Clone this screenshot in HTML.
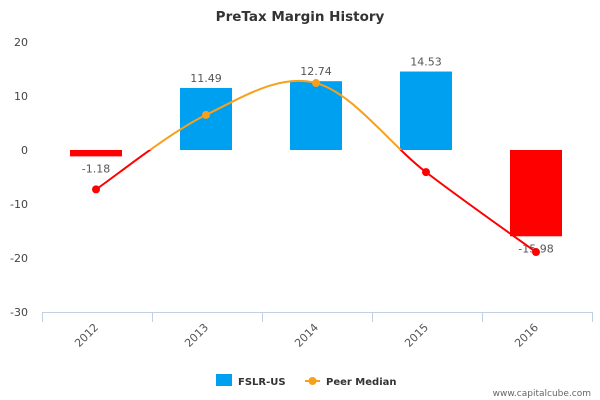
<!DOCTYPE html>
<html><head><meta charset="utf-8"><style>
body{margin:0;background:#fff;}
svg{display:block;font-family:"DejaVu Sans","Liberation Sans",sans-serif;}
</style></head><body>
<svg id="c" width="600" height="400">
<text x="300" y="21" text-anchor="middle" font-size="13.5" font-weight="bold" fill="#333">PreTax Margin History</text>
<g id="yaxis"></g>
<g id="xaxis"></g>
<g id="bars"></g>
<g id="line"></g>
<g>
<rect x="216" y="374" width="16" height="12" fill="#00a0f0"/>
<text x="238" y="385" font-size="10" font-weight="bold" fill="#333">FSLR-US</text>
<line x1="305" y1="381" x2="320" y2="381" stroke="#f8a01c" stroke-width="2"/>
<circle cx="312.5" cy="381" r="4" fill="#f8a01c"/>
<text x="326" y="385" font-size="10" font-weight="bold" fill="#333">Peer Median</text>
</g>
<text x="591" y="396" text-anchor="end" font-size="9" fill="#666">www.capitalcube.com</text>
</svg>
<script>
const categories=["2012","2013","2014","2015","2016"];
const fslrValues=[-1.18,11.49,12.74,14.53,-15.98];
const fslrLabels=["-1.18","11.49","12.74","14.53","-15.98"];
const peerValues=[-7.3,6.5,12.4,-4.1,-18.9];
const yTicks=[20,10,0,-10,-20,-30];
const NS="http://www.w3.org/2000/svg";
const L=42,R=592,bw=(R-L)/categories.length;
const y=v=>150-v*5.4;
const x=i=>L+bw*(i+0.5)-1;
function mk(t,a,p){const e=document.createElementNS(NS,t);for(const k in a)e.setAttribute(k,a[k]);(p||document.getElementById('c')).appendChild(e);return e;}
const ya=document.getElementById('yaxis'),xa=document.getElementById('xaxis'),bg=document.getElementById('bars'),lg=document.getElementById('line');
yTicks.forEach(t=>{const e=mk('text',{x:28,y:y(t)+4,'text-anchor':'end','font-size':11,fill:'#444'},ya);e.textContent=t;

});
mk('line',{x1:L,y1:312.5,x2:R,y2:312.5,stroke:'#c0d0e0'},xa);
for(let i=0;i<=categories.length;i++)mk('line',{x1:L+bw*i+0.5,y1:312,x2:L+bw*i+0.5,y2:322,stroke:'#c0d0e0'},xa);
categories.forEach((c,i)=>{const e=mk('text',{x:x(i)+3,y:328,'text-anchor':'end','font-size':11,fill:'#555',transform:`rotate(-45 ${x(i)+3} 328)`},xa);e.textContent=c;

});
fslrValues.forEach((v,i)=>{const neg=v<0;const b=mk('rect',{x:x(i)-26,y:Math.min(y(v),y(0)),width:52,height:Math.abs(y(v)-y(0)),fill:neg?'#ff0000':'#00a0f0'},bg);


const t=mk('text',{x:x(i),y:neg?y(v)+16:y(v)-6,'text-anchor':'middle','font-size':11,fill:'#555'},bg);t.textContent=fslrLabels[i];

});
const pts=peerValues.map((v,i)=>[x(i),y(v)]);
let d=`M${pts[0][0]},${pts[0][1]}`;
for(let i=0;i<pts.length-1;i++){const p0=pts[Math.max(i-1,0)],p1=pts[i],p2=pts[i+1],p3=pts[Math.min(i+2,pts.length-1)];const k=1/6;
d+=` C${p1[0]+(p2[0]-p0[0])*k},${p1[1]+(p2[1]-p0[1])*k} ${p2[0]-(p3[0]-p1[0])*k},${p2[1]-(p3[1]-p1[1])*k} ${p2[0]},${p2[1]}`;}
const defs=mk('defs',{});
const c1=mk('clipPath',{id:'above'},defs);mk('rect',{x:0,y:0,width:600,height:y(0)},c1);
const c2=mk('clipPath',{id:'below'},defs);mk('rect',{x:0,y:y(0),width:600,height:400},c2);
mk('path',{d:d,fill:'none',stroke:'#f8a01c','stroke-width':2,'clip-path':'url(#above)'},lg);
mk('path',{d:d,fill:'none',stroke:'#ff0000','stroke-width':2,'clip-path':'url(#below)'},lg);
peerValues.forEach((v,i)=>{const m=mk('circle',{cx:x(i),cy:y(v),r:4,fill:v<0?'#ff0000':'#f8a01c'},lg);

});
</script>
</body></html>
